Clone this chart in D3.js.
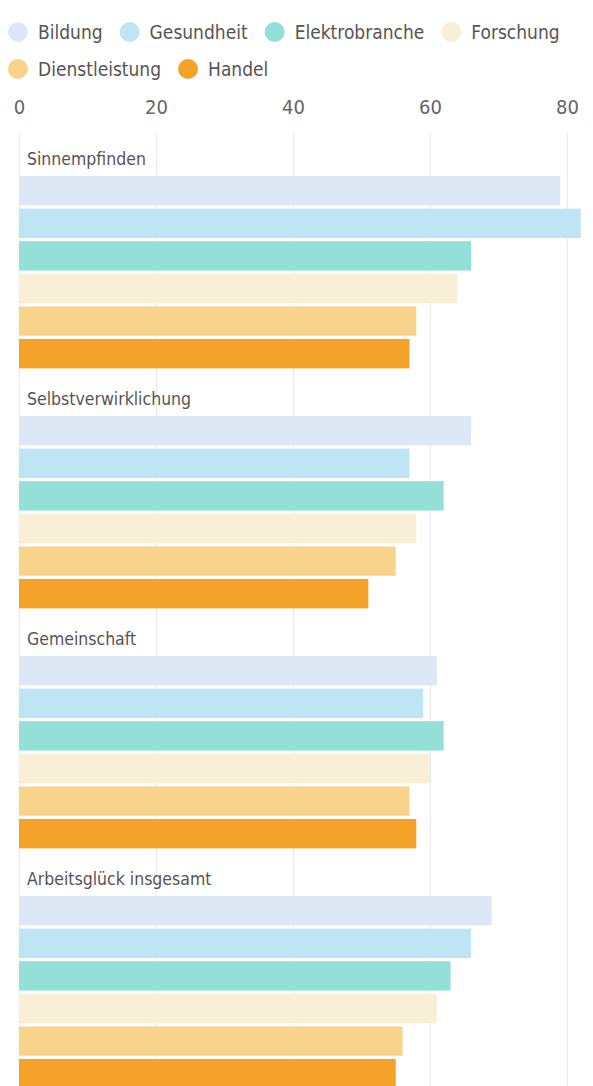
<!DOCTYPE html>
<html>
<head>
<meta charset="utf-8">
<script src="https://cdn.jsdelivr.net/npm/d3@7"></script>
<style>
  body { margin: 0; background: #fff; }
  svg { display: block; font-family: "DejaVu Sans", sans-serif; font-stretch: condensed; }
</style>
</head>
<body>
<svg id="chart"></svg>
<script>
// categories (groups) and series
var categories = ["Sinnempfinden", "Selbstverwirklichung", "Gemeinschaft", "Arbeitsglück insgesamt"];
var seriesNames = ["Bildung", "Gesundheit", "Elektrobranche", "Forschung", "Dienstleistung", "Handel"];
var seriesColors = ["#dde8f7", "#bde5f3", "#93e0d8", "#f9eed6", "#f9d38c", "#f4a328"];

// values per series, in category order
var bildung        = [79, 66, 61, 69];
var gesundheit     = [82, 57, 59, 66];
var elektrobranche = [66, 62, 62, 63];
var forschung      = [64, 58, 60, 61];
var dienstleistung = [58, 55, 57, 56];
var handel         = [57, 51, 58, 55];

var tickValues = [0, 20, 40, 60, 80];

var seriesValues = [bildung, gesundheit, elektrobranche, forschung, dienstleistung, handel];

var svgWidth = 593, svgHeight = 1086;
var margin = { top: 138, left: 19, right: 26 };

var svg = d3.select("#chart")
  .attr("width", svgWidth)
  .attr("height", svgHeight);

var x = d3.scaleLinear()
  .domain([0, 80])
  .range([margin.left, svgWidth - margin.right]);

//one band per category
var y0 = d3.scaleBand()
  .domain(categories)
  .range([margin.top, margin.top + 240 * categories.length]);

//bars inside a category
var y1 = d3.scaleBand()
  .domain(seriesNames)
  .range([36.4, 36.4 + 32.6 * seriesNames.length])
  .paddingInner(0.1)
  .paddingOuter(0.05);

var color = d3.scaleOrdinal()
  .domain(seriesNames)
  .range(seriesColors);

//grid lines
svg.append("g")
  .attr("transform", `translate(0,${margin.top - 6})`)
  .call(d3.axisBottom(x).tickValues(tickValues).tickSize(svgHeight).tickFormat(""))
  .call(g => g.select(".domain").remove())
  .selectAll("line")
    .attr("stroke", "#ebebee")
    .attr("stroke-width", 1.2);

//tick labels
svg.append("g")
  .attr("transform", "translate(0,114)")
  .call(d3.axisTop(x).tickValues(tickValues).tickSize(0).tickPadding(0))
  .call(g => g.select(".domain").remove())
  .selectAll("text")
    .attr("fill", "#666")
    .style("font-size", "20px")
    .style("font-family", "'DejaVu Sans', sans-serif")
    .style("font-stretch", "condensed");

var groups = svg.append("g")
  .selectAll("g")
  .data(categories)
  .join("g")
    .attr("transform", d => `translate(0,${y0(d)})`);

groups.append("text")
  .attr("x", margin.left + 8)
  .attr("y", 27)
  .attr("fill", "#555")
  .style("font-size", "17.5px")
  .text(d => d);

groups.selectAll("rect")
  .data((d, ci) => seriesNames.map((s, si) => ({ name: s, value: seriesValues[si][ci] })))
  .join("rect")
    .attr("x", x(0))
    .attr("y", d => y1(d.name))
    .attr("width", d => x(d.value) - x(0))
    .attr("height", y1.bandwidth())
    .attr("fill", d => color(d.name));

//legend, wrapped in rows
var legend = svg.append("g");
var lx = 18, ly = 32, rowH = 37, maxX = 585;
seriesNames.forEach(function(name) {
  var item = legend.append("g");
  item.append("circle")
    .attr("r", 10)
    .attr("fill", color(name));
  var t = item.append("text")
    .attr("x", 20)
    .attr("y", 7)
    .attr("fill", "#555")
    .style("font-size", "19px")
    .text(name);
  var w = 20 + t.node().getComputedTextLength();
  if (lx + w > maxX) { lx = 18; ly += rowH; }
  item.attr("transform", `translate(${lx},${ly})`);
  lx += w + 27;
});
</script>
</body>
</html>
